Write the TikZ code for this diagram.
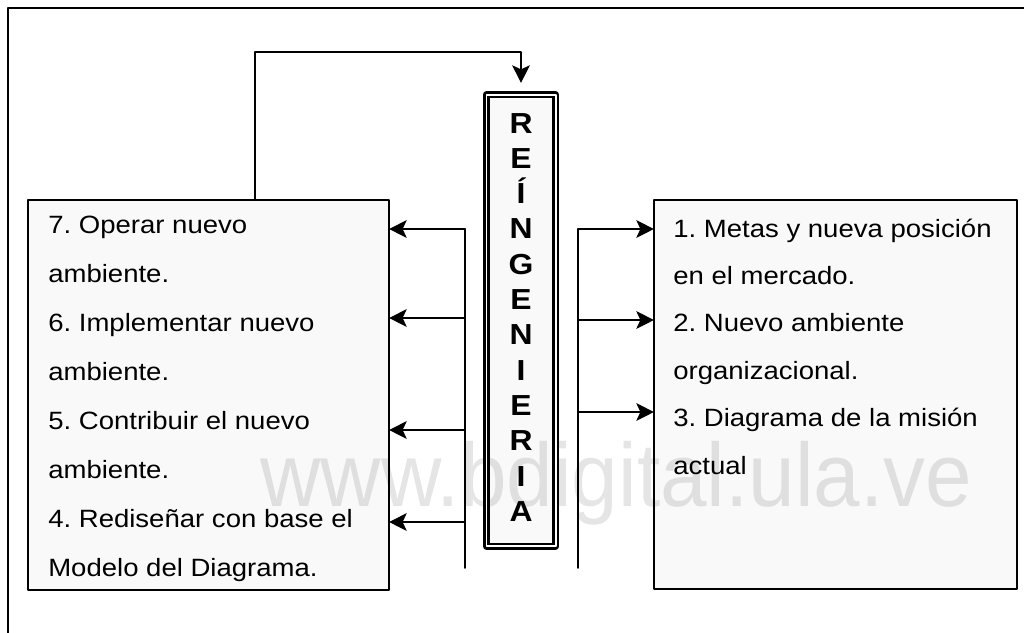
\documentclass[tikz,border=0pt]{standalone}
\usepackage{fontspec}
\setmainfont{Liberation Sans}[FakeStretch=1.1]
\newfontfamily\marcafont{Liberation Sans}[FakeStretch=0.93]
\usetikzlibrary{arrows.meta}
\frenchspacing
\begin{document}
\begin{tikzpicture}[x=0.025cm,y=-0.025cm,line join=round,line cap=round,>={Stealth[length=0.44cm,width=0.44cm,inset=0.1cm]}]
	\tikzset{caja/.style={draw,line width=1.4pt,fill=black,fill opacity=0.025,draw opacity=1,inner sep=0,outer sep=0},
		texto/.style={anchor=base west,inner sep=0,font=\fontsize{17.8}{20}\selectfont},
		letra/.style={anchor=base,inner sep=0,font=\bfseries\fontsize{20.6}{22}\selectfont},
		flecha/.style={line width=1.2pt,->}}
	\useasboundingbox(0,0)rectangle(1024,632);
	\clip(0,0)rectangle(1024,632);
	%%%%%%%%%Marco
	\draw[line width=1pt](8,700)--(8,8)--(1100,8);
	%%%%%%%%%Marca de agua
	\node[anchor=base west,inner sep=0,text=black!10,font=\marcafont\fontsize{64}{70}\selectfont] (marca) at (260,506) {www.bdigital.ula.ve};
	%%%%%%%%%Cajas
	\node[caja,minimum width=9.025cm,minimum height=9.75cm] (izq) at (208.5,395) {};
	\node[caja,minimum width=9.075cm,minimum height=9.725cm] (der) at (835.5,394.5) {};
	\node[caja,double,line width=1.8pt,double distance=1.4pt,minimum width=1.725cm,minimum height=11.275cm] (reing) at (521,320.5) {};
	\foreach \l [count=\k from 0] in {R,E,Í,N,G,E,N,I,E,R,I,A}
		\node[letra] (l\k) at (521,133+35.3*\k) {\l};
	%%%%%%%%%Flechas
	\coordinate (fb) at (255,52);
	\draw[flecha](izq.north -| fb)|-(reing.north |- fb)--([yshift=0.3cm]reing.north);
	\coordinate (bi) at (465,229);
	\coordinate (bi2) at (465,568);
	\coordinate (bd) at (578,229);
	\coordinate (bd2) at (578,568);
	\draw[line width=1.2pt](bi)--(bi2)(bd)--(bd2);
	\foreach \y [count=\k] in {229,318,430,522}{
		\coordinate (pi\k) at (465,\y);
		\draw[flecha](pi\k)--(pi\k -| izq.east);
	}
	\foreach \y [count=\k] in {229,320,412}{
		\coordinate (pd\k) at (578,\y);
		\draw[flecha](pd\k)--(pd\k -| der.west);
	}
	%%%%%%%%%Textos
	\foreach \t [count=\k from 0] in {7. Operar nuevo,ambiente.,6. Implementar nuevo,ambiente.,5. Contribuir el nuevo,ambiente.,4. Rediseñar con base el,Modelo del Diagrama.}
		\node[texto] (ti\k) at (48,233+49*\k) {\t};
	\foreach \t [count=\k from 0] in {1. Metas y nueva posición,en el mercado.,2. Nuevo ambiente,organizacional.,3. Diagrama de la misión,actual}
		\node[texto] (td\k) at (673,237+47.4*\k) {\t};
\end{tikzpicture}
\end{document}
